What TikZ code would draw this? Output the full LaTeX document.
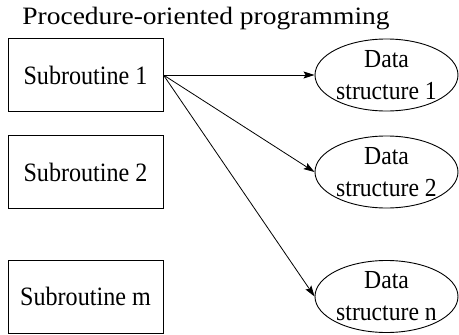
\documentclass[tikz,border=0pt]{standalone}
\usepackage{fontspec}
\setmainfont{Liberation Serif}
\newfontfamily\boxfont[FakeStretch=0.91]{Liberation Serif}
\newfontfamily\titlefont[FakeStretch=1.1]{Liberation Serif}
\usetikzlibrary{shapes.geometric,arrows.meta}
\begin{document}
\begin{tikzpicture}[x=1pt,y=-1pt,
  subbox/.style={draw, line width=0.9pt, minimum width=155pt, minimum height=73pt, inner sep=0pt,
    font=\boxfont\fontsize{26.5}{32}\selectfont},
  databox/.style={ellipse, draw, line width=0.9pt, minimum width=143pt, minimum height=72pt, inner sep=0pt,
    align=center, font=\boxfont\fontsize{26}{32}\selectfont},
  link/.style={line width=0.8pt, -{Stealth[length=11pt,width=7pt,inset=2pt]}}]
\useasboundingbox (0,0) rectangle (459,335);
\node[anchor=base, font=\titlefont\fontsize{25}{29}\selectfont] (title) at (206,24) {Procedure-oriented programming};
\node[subbox] (s1) at (85.5,75) {Subroutine 1};
\node[subbox] (s2) at (85.5,172) {Subroutine 2};
\node[subbox] (sm) at (85.5,296.5) {Subroutine m};
\node[databox] (d1) at (386.5,75) {Data\\structure 1};
\node[databox] (d2) at (386.5,172) {Data\\structure 2};
\node[databox] (dn) at (386.5,296.5) {Data\\structure n};
\draw[link] (s1.east) -- (d1.west);
\draw[link] (s1.east) -- (d2.west);
\draw[link] (s1.east) -- (dn.west);
\end{tikzpicture}
\end{document}
